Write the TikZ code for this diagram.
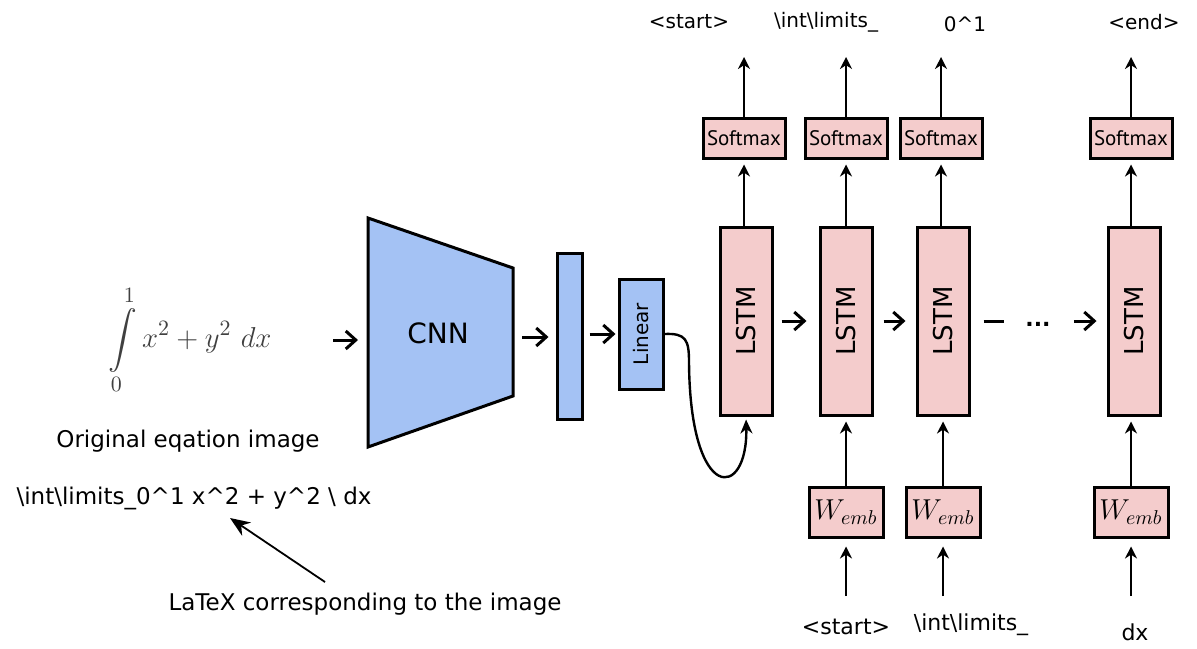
\documentclass[tikz,border=0pt]{standalone}
\usepackage{fontspec}
\usepackage{amsmath}
\usetikzlibrary{arrows.meta,positioning,calc}
\newfontfamily\dejavu{DejaVu Sans}
\newfontfamily\ptsans{PT Sans}
\definecolor{cnnblue}{HTML}{A4C2F4}
\definecolor{lstmpink}{HTML}{F4CCCC}
\newcommand{\bsl}{\textbackslash}

\begin{document}
\begin{tikzpicture}[x=0.5pt,y=-0.5pt,>=Stealth,
  blk/.style={draw,line width=1.5pt,inner sep=0pt},
  lstmbox/.style={blk,fill=lstmpink,minimum width=26pt,minimum height=94pt,font=\dejavu\fontsize{13}{13}\selectfont},
  softbox/.style={blk,fill=lstmpink,minimum width=41pt,minimum height=20pt,font=\ptsans\fontsize{10.5}{10.5}\selectfont},
  embbox/.style={blk,fill=lstmpink,minimum width=37pt,minimum height=25pt,font=\fontsize{14}{14}\selectfont},
  tok/.style={font=\dejavu\fontsize{10}{12}\selectfont},
  btok/.style={font=\dejavu\fontsize{11}{13}\selectfont},
  ltxt/.style={font=\dejavu\fontsize{11.5}{13}\selectfont},
  harr/.style={-{Straight Barb[length=5pt,width=9pt]},line width=1.5pt},
  varr/.style={-{Stealth[length=6pt,width=6pt]},line width=1.4pt}]
  \useasboundingbox (0,0) rectangle (1197,648);

  % input side
  \node[font=\fontsize{15.5}{18}\selectfont,text=black!75] (eq) at (190,340) {$\displaystyle\int\limits_0^1 x^2+y^2\ dx$};
  \node[ltxt] (orig) at (188,441) {Original eqation image};
  \node[ltxt] (code) at (194,498) {\bsl int\bsl limits\_0\textasciicircum1 x\textasciicircum2 + y\textasciicircum2 \bsl{} dx};
  \node[ltxt] (ann) at (365,604) {LaTeX corresponding to the image};
  \coordinate (annTail) at (325,582);
  \coordinate (annTip) at (230,518);
  \draw[line width=0.9pt,-{Stealth[length=10pt,width=8pt]}] (annTail) -- (annTip);

  % encoder
  \coordinate (eqOut) at (333,340);
  \coordinate (cnnL) at (368,340);
  \coordinate (cnnR) at (513,337);
  \draw[line width=1.5pt,fill=cnnblue] (368,218) -- (513,268) -- (513,396) -- (368,447) -- cycle;
  \node[font=\dejavu\fontsize{14}{14}\selectfont] (cnn) at (438,333) {CNN};
  \draw[harr,shorten >=5pt] (eqOut) -- (cnnL);

  \node[blk,fill=cnnblue,minimum width=12.5pt,minimum height=83pt] (feat) at (569.5,336) {};
  \draw[harr,shorten <=4.5pt,shorten >=3.5pt] (cnnR) -- (cnnR -| feat.west);
  \node[blk,fill=cnnblue,minimum width=22pt,minimum height=55pt,font=\dejavu\fontsize{10}{10}\selectfont] (lin) at (641,334) {\rotatebox{90}{Linear}};
  \draw[harr,shorten <=3pt,shorten >=1pt] (feat.east |- lin.west) -- (lin.west);

  % decoder
  \node[lstmbox] (l1) at (746,321) {\rotatebox{90}{LSTM}};
  \node[lstmbox] (l2) at (846,321) {\rotatebox{90}{LSTM}};
  \node[lstmbox] (l3) at (943,321) {\rotatebox{90}{LSTM}};
  \node[lstmbox] (l4) at (1134,321) {\rotatebox{90}{LSTM}};
  \node[font=\dejavu\bfseries\fontsize{11}{11}\selectfont,inner sep=0pt] (dots) at (1038,324) {...};

  \draw[harr,shorten <=4pt,shorten >=6pt] (l1.east) -- (l2.west);
  \draw[harr,shorten <=5pt,shorten >=5pt] (l2.east) -- (l3.west);
  \draw[line width=1.5pt,shorten <=6.5pt,shorten >=10.5pt] (l3.east) -- (l3.east -| dots.west);
  \draw[harr,shorten <=11.5pt,shorten >=5pt] (l4.west -| dots.east) -- (l4.west);

  \draw[line width=1.2pt,-{Stealth[length=7pt,width=6pt]},shorten >=1.5pt] (lin.east) .. controls (686,333) and (689,340) .. (689,362) .. controls (690,505) and (748,500) .. (l1.south);

  % softmax
  \node[softbox] (s1) at (744,138) {Softmax};
  \node[softbox] (s2) at (846,138) {Softmax};
  \node[softbox] (s3) at (941,138) {Softmax};
  \node[softbox] (s4) at (1131,138) {Softmax};
  \draw[varr,line width=1pt,shorten >=2.5pt] (l1.north -| s1) -- (s1.south);
  \draw[varr,shorten >=2.5pt] (l2.north -| s2) -- (s2.south);
  \draw[varr,shorten >=2.5pt] (l3.north -| s3) -- (s3.south);
  \draw[varr,shorten >=2.5pt] (l4.north -| s4) -- (s4.south);

  \coordinate (o1) at (744,57);
  \coordinate (o2) at (846,57);
  \coordinate (o3) at (941,57);
  \coordinate (o4) at (1131,57);
  \draw[varr,line width=1pt] (s1.north) -- (o1);
  \draw[varr] (s2.north) -- (o2);
  \draw[varr] (s3.north) -- (o3);
  \draw[varr] (s4.north) -- (o4);

  \node[tok] (t1) at (689,22) {<start>};
  \node[tok] (t2) at (826,22) {\bsl int\bsl limits\_};
  \node[tok] (t3) at (965,24) {0\textasciicircum1};
  \node[tok] (t4) at (1144,22) {<end>};

  % embeddings
  \node[embbox] (w2) at (846,512) {$W_{emb}$};
  \node[embbox] (w3) at (943,512) {$W_{emb}$};
  \node[embbox] (w4) at (1131,512) {$W_{emb}$};
  \draw[varr,line width=1.1pt,shorten >=2.5pt] (w2.north) -- (w2.north |- l2.south);
  \draw[varr,line width=1.1pt,shorten >=2.5pt] (w3.north) -- (w3.north |- l3.south);
  \draw[varr,line width=1.1pt,shorten >=2.5pt] (w4.north) -- (w4.north |- l4.south);

  \coordinate (i2) at (846,596);
  \coordinate (i3) at (943,596);
  \coordinate (i4) at (1131,596);
  \draw[varr,shorten >=4pt] (i2) -- (w2.south);
  \draw[varr,shorten >=4pt] (i3) -- (w3.south);
  \draw[varr,shorten >=4pt] (i4) -- (w4.south);

  \node[btok] (b2) at (846,627) {<start>};
  \node[btok] (b3) at (971,625) {\bsl int\bsl limits\_};
  \node[btok] (b4) at (1135,632) {dx};
\end{tikzpicture}
\end{document}
